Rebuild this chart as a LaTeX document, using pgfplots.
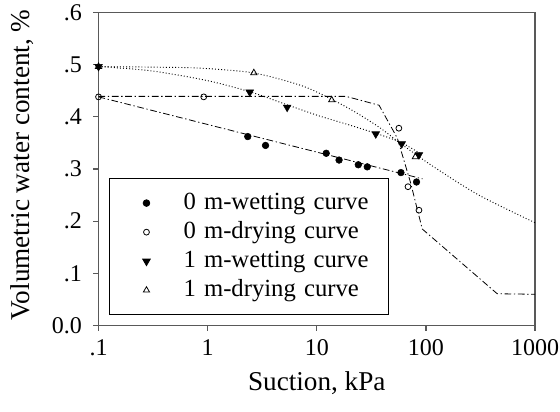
\documentclass[border=0pt]{standalone}
\usepackage{pgfplots}
\pgfplotsset{compat=1.18}
\usepackage{fontspec}
\setmainfont{Liberation Serif}

% fitted curves and measured points (suction in kPa, volumetric water content)
\pgfplotstableread{
x y
0.1 0.438
93 0.281
}\wetzeroline
\pgfplotstableread{
x y
0.1 0.439
18.5 0.439
37.2 0.422
54.7 0.359
72.5 0.273
92.5 0.185
450 0.061
1000 0.060
}\dryzeroline
\pgfplotstableread{
x y
0.1 0.496
0.3 0.488
1 0.469
2.5 0.447
5 0.425
10 0.403
20 0.384
40 0.364
60 0.350
88 0.330
}\wetoneline
\pgfplotstableread{
x y
0.1 0.496
0.3 0.495
0.85 0.493
2.6 0.484
6.9 0.461
12.1 0.439
21.2 0.412
37.2 0.380
56.6 0.351
80.5 0.328
122 0.302
305 0.250
1000 0.197
}\dryoneline

\begin{document}
\begin{tikzpicture}
\begin{axis}[
  at={(0,0)}, anchor=south west,
  scale only axis, width=327.4pt, height=235pt,
  xmode=log, xmin=0.1, xmax=1000, ymin=0, ymax=0.6,
  xtick={0.1,1,10,100,1000}, xticklabels={.1,1,10,100,1000},
  ytick={0,0.1,0.2,0.3,0.4,0.5,0.6}, yticklabels={0.0,.1,.2,.3,.4,.5,.6},
  xminorticks=false, yminorticks=false,
  tick align=outside, xtick pos=bottom, ytick pos=left,
  major tick length=4pt,
  axis line style={draw=black!65, line width=0.9pt},
  every tick/.style={draw=black!65, line width=0.9pt},
  tick label style={font=\fontsize{18}{21}\selectfont},
  xticklabel style={yshift=-3pt},
  yticklabel style={xshift=-5pt},
  label style={font=\fontsize{20.4}{24}\selectfont},
  xlabel={Suction, kPa}, ylabel={Volumetric water content, \%},
  xlabel style={at={(axis description cs:0.5,-0.183)}, anchor=center},
  ylabel style={at={(axis description cs:-0.176,0.513)}, anchor=center},
  legend style={at={(0.024,0.034)}, anchor=south west, draw=black, line width=0.6pt,
    inner xsep=0pt, inner ysep=7.3pt, row sep=0pt,
    font=\fontsize{18.5}{21}\selectfont, cells={anchor=west},
    nodes={inner ysep=2.4pt, text height=13pt, text depth=4pt, text width=151.5pt, align=left}},
  legend image code/.code={\path (0pt,0pt) (53pt,0pt); \draw[#1] plot coordinates {(27.5pt,0pt)};},
]
\addplot[black, line width=0.6pt, dash pattern=on 5pt off 2pt on 1pt off 2pt, forget plot] table {\wetzeroline};
\addplot[black, line width=0.6pt, dash pattern=on 5pt off 2pt on 1pt off 2pt, forget plot] table {\dryzeroline};
\addplot[black, line width=0.7pt, dash pattern=on 0.7pt off 1.6pt, smooth, forget plot] table {\wetoneline};
\addplot[black, line width=0.7pt, dash pattern=on 0.7pt off 1.6pt, smooth, forget plot] table {\dryoneline};

\addplot[only marks, mark=*, mark size=2.5pt, mark options={fill=black, draw=black}] coordinates {
(2.33,0.362) (3.39,0.345) (12.2,0.330) (16.0,0.317) (24.0,0.308) (29.0,0.304) (59.0,0.293) (82.0,0.275)};
\addlegendentry{0 m-wetting curve}
\addplot[only marks, mark=o, mark size=2.2pt, mark options={draw=black, fill=white, line width=0.6pt}] coordinates {
(0.1,0.438) (0.92,0.438) (56.5,0.378) (68.5,0.266) (86.3,0.221)};
\addlegendentry{0 m-drying curve}
\addplot[only marks, mark=triangle*, mark size=3.3pt, mark options={rotate=180, fill=black, draw=black}] coordinates {
(0.1,0.496) (2.43,0.447) (5.35,0.418) (34.7,0.367) (60,0.348) (86.3,0.327)};
\addlegendentry{1 m-wetting curve}
\addplot[only marks, mark=triangle, mark size=2.7pt, mark options={draw=black, fill=white, line width=0.6pt}] coordinates {
(0.1,0.496) (2.65,0.484) (13.7,0.432) (80,0.323)};
\addlegendentry{1 m-drying curve}
\end{axis}
\pgfresetboundingbox
\useasboundingbox (-73.9pt,-64.7pt) rectangle (346.1pt,244.2pt);
\end{tikzpicture}
\end{document}
